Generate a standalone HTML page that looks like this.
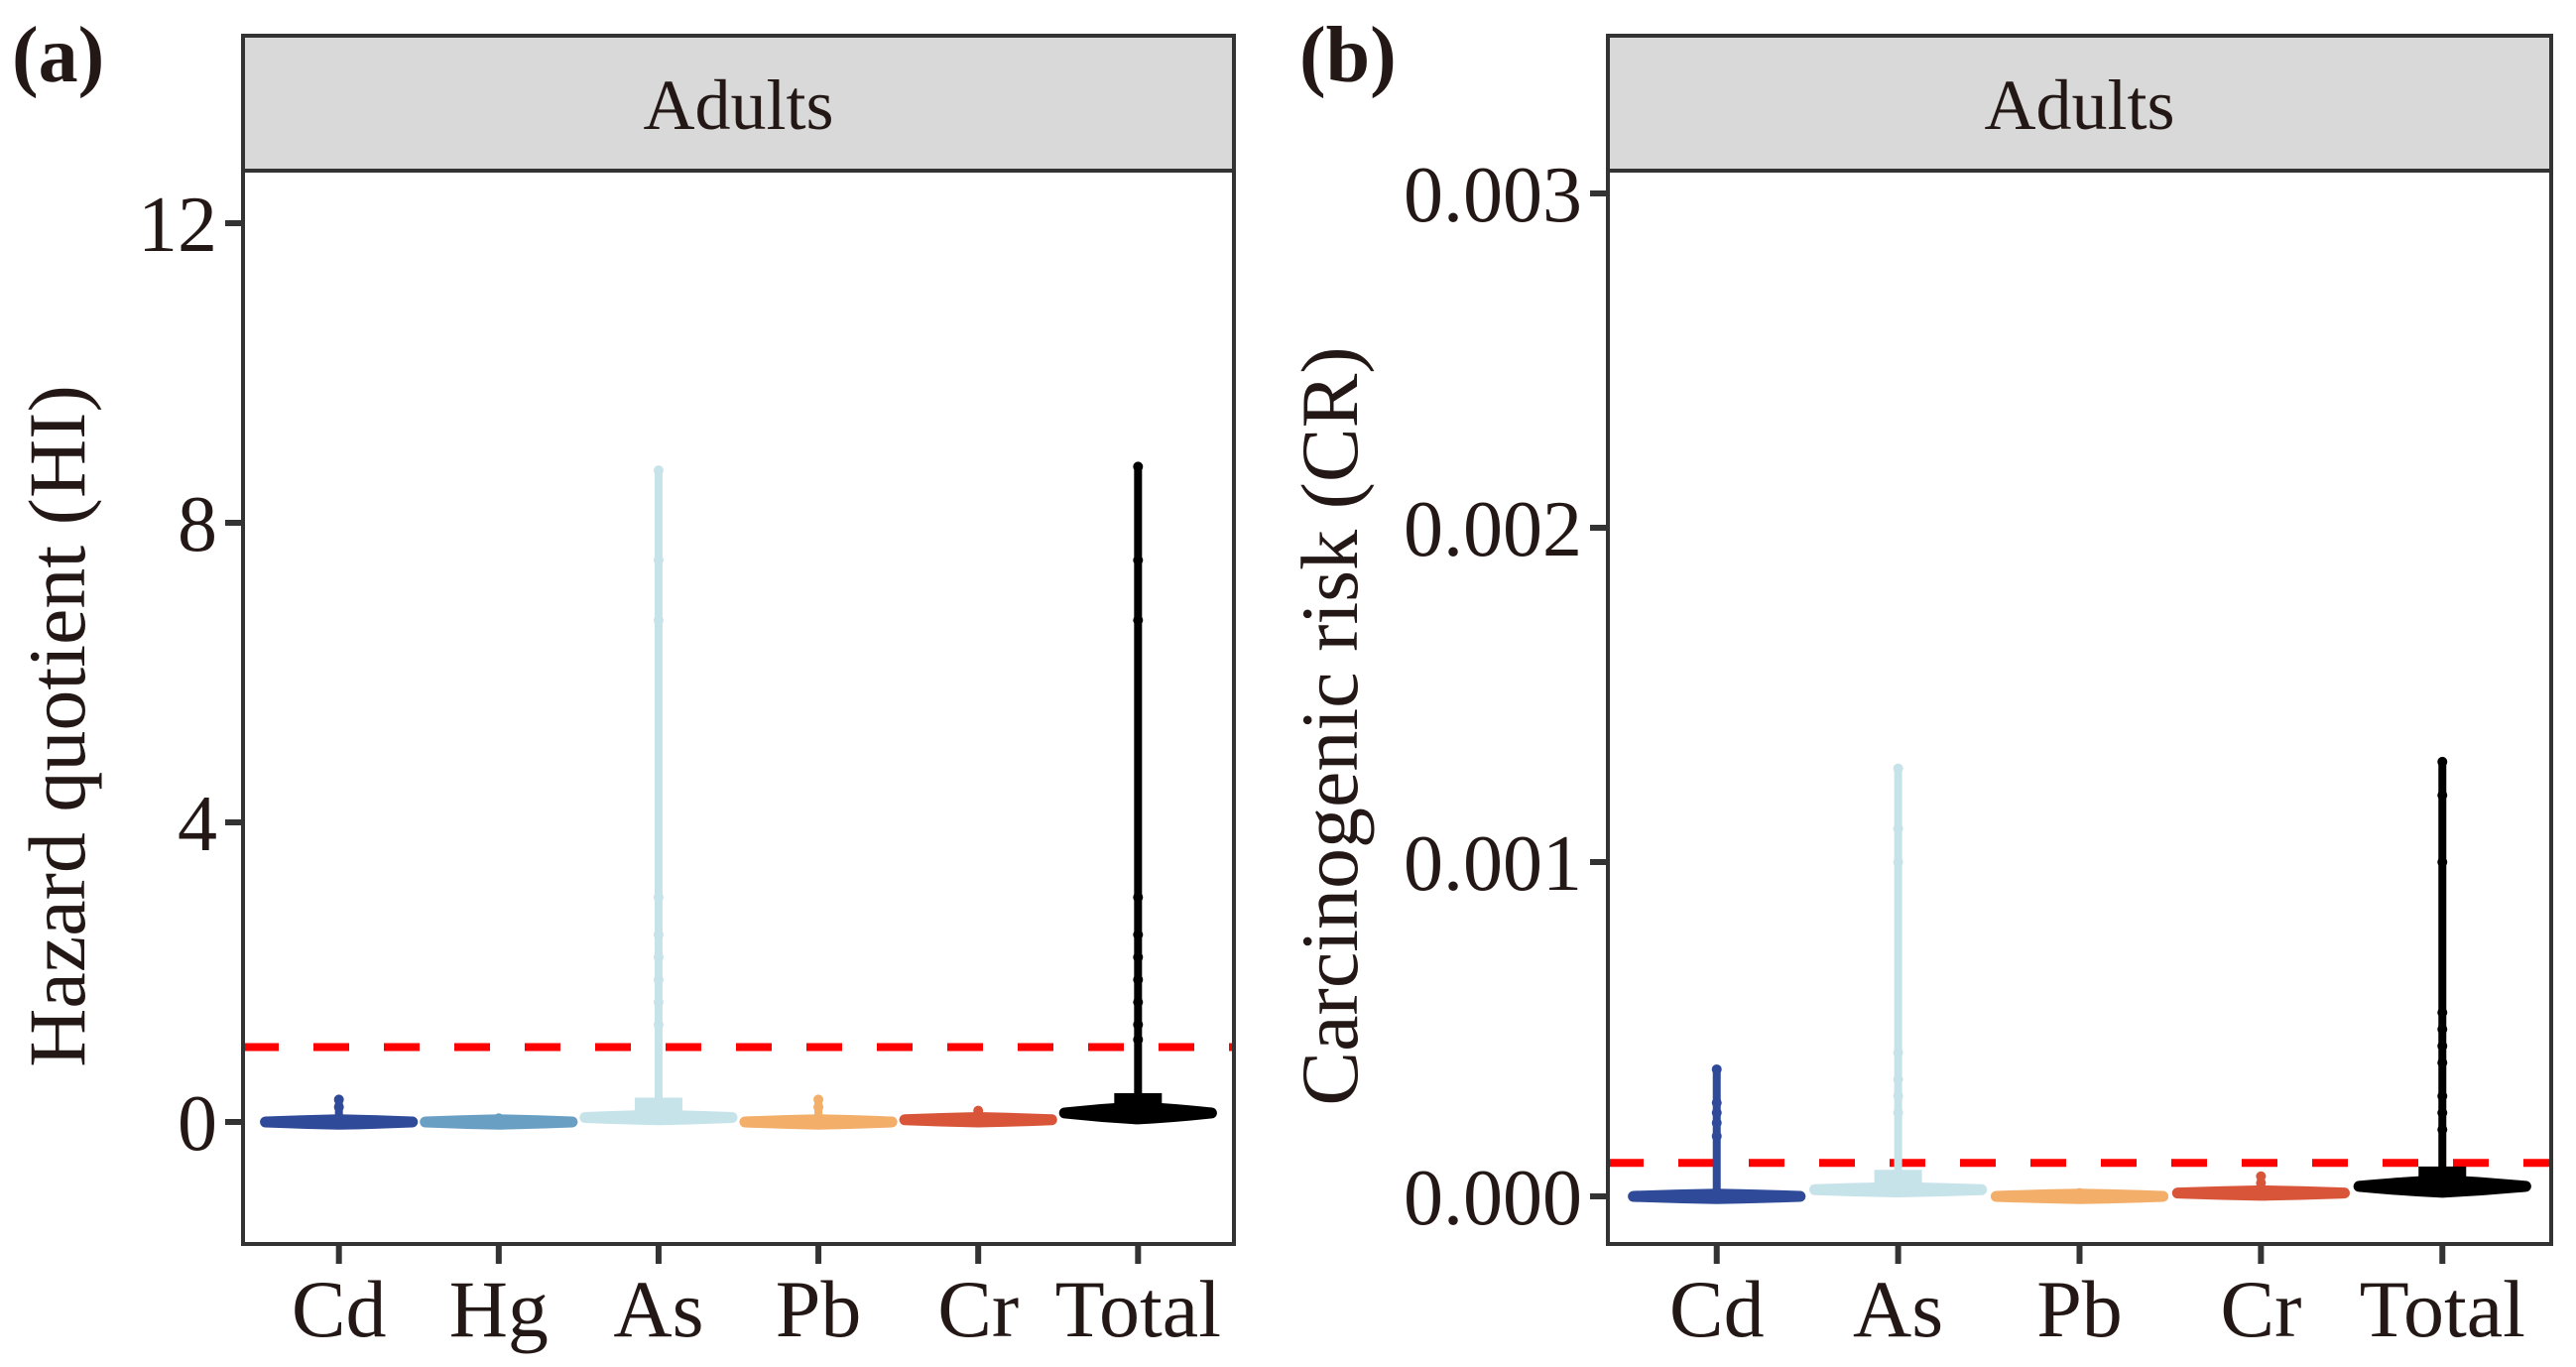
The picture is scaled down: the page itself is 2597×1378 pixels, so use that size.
<!DOCTYPE html>
<html><head><meta charset="utf-8"><style>
body{margin:0;background:#fff}
svg{display:block}
text{font-family:"Liberation Serif",serif;fill:#231815}
</style></head><body>
<svg id="c" width="2597" height="1378" xmlns="http://www.w3.org/2000/svg"></svg>
<script>
const catsA=["Cd","Hg","As","Pb","Cr","Total"];
const medA=[0.0,0.0,0.06,0.0,0.03,0.12];
const maxA=[0.3,0.05,8.7,0.3,0.15,8.75];
const outA=[[0.2],[],[7.5,6.7,3.0,2.5,2.2,1.9,1.6,1.3],[0.2],[0.1],[7.5,6.7,3.0,2.5,2.2,1.9,1.6,1.3,1.1]];
const ticksA=[0,4,8,12];
const catsB=["Cd","As","Pb","Cr","Total"];
const medB=[0.0,0.00002,0.0,0.00001,0.00003];
const maxB=[0.00038,0.00128,0.00001,0.00006,0.0013];
const outB=[[0.00028,0.00025,0.00022,0.00018],[0.0011,0.001,0.00043,0.00035,0.0003,0.00025],[],[0.00004],[0.0012,0.001,0.00055,0.0005,0.00045,0.0004,0.0003,0.00025,0.0002]];
const ticksB=["0.000","0.001","0.002","0.003"];
const cols={Cd:"#2e4a99",Hg:"#6a9fc4",As:"#c6e3ea",Pb:"#f3ae6a",Cr:"#d9553a",Total:"#000"};
const svg=document.getElementById('c');
const NS="http://www.w3.org/2000/svg";
function el(t,a,p){const e=document.createElementNS(NS,t);for(const k in a)e.setAttribute(k,a[k]);(p||svg).appendChild(e);return e;}
function panel(o){
  const g=el('g',{});
  
  
  const L=o.L,R=o.R,T=172,B=1254;
  const n=o.cats.length,unit=(R-L)/(n-1+1.2);
  const x=i=>L+unit*(0.6+i);
  const y=v=>o.y0+(v)*o.k;
  const strip=el('rect',{x:L,y:36,width:R-L,height:T-36,fill:'#d9d9d9',stroke:'#333','stroke-width':4},g);
  
  const st=el('text',{x:(L+R)/2,y:130,'font-size':72,'text-anchor':'middle'},g);st.textContent='Adults';
  
  o.ticks.forEach((t,i)=>{const v=o.tickVals[i];
    el('line',{x1:L-18,x2:L,y1:y(v),y2:y(v),stroke:'#333','stroke-width':6},g);
    const tx=el('text',{x:L-26,y:y(v)+28,'font-size':80,'text-anchor':'end'},g);tx.textContent=t;
    
  });
  const th=el('line',{x1:L,x2:R,y1:y(o.thr),y2:y(o.thr),stroke:'#ff0000','stroke-width':8,'stroke-dasharray':'36 35'},g);
  
  o.cats.forEach((c,i)=>{
    const cx=x(i),col=cols[c],hw=unit*0.46,ym=y(o.med[i]);
    const vg=el('g',{},g);
    
    el('line',{x1:cx,x2:cx,y1:ym,y2:y(o.max[i]),stroke:col,'stroke-width':8,'stroke-linecap':'round'},vg);
    const bw=c==='Total'?4:1.5;
    el('path',{d:`M${cx-hw},${ym} Q${cx-hw*0.5},${ym-bw} ${cx},${ym-bw*1.5} Q${cx+hw*0.5},${ym-bw} ${cx+hw},${ym} Q${cx+hw*0.5},${ym+bw} ${cx},${ym+bw*1.5} Q${cx-hw*0.5},${ym+bw} ${cx-hw},${ym}Z`,fill:col,stroke:col,'stroke-width':11,'stroke-linejoin':'round'},vg);
    if(o.max[i]-o.med[i]>o.bigThr) el('rect',{x:cx-24,y:ym-20,width:48,height:24,fill:col},vg);
    el('circle',{cx:cx,cy:y(o.max[i]),r:5,fill:col},vg);
    o.out[i].forEach(v=>el('circle',{cx:cx,cy:y(v),r:5,fill:col},vg));
    el('line',{x1:cx,x2:cx,y1:B,y2:B+20,stroke:'#333','stroke-width':6},g);
    const lt=el('text',{x:cx,y:1347,'font-size':82,'text-anchor':'middle'},g);lt.textContent=c;
    
  });
  const fr=el('rect',{x:L,y:T,width:R-L,height:B-T,fill:'none',stroke:'#333','stroke-width':4},g);
  
  const yt=el('text',{x:0,y:0,'font-size':82,'text-anchor':'middle',transform:`translate(${o.ytx},732) rotate(-90)`},g);yt.textContent=o.ytitle;
  
  const pl=el('text',{x:o.plx,y:82,'font-size':80,'font-weight':'bold'},g);pl.textContent=o.plabel;
  
}
panel({name:'panel-a',L:245,R:1244,cats:catsA,med:medA,max:maxA,out:outA,y0:1131,k:-75.5,ticks:ticksA.map(String),tickVals:ticksA,thr:1,bigThr:1,ytx:85,ytitle:'Hazard quotient (HI)',plx:12,plabel:'(a)'});
panel({name:'panel-b',L:1621,R:2572,cats:catsB,med:medB,max:maxB,out:outB,y0:1206,k:-337000,ticks:ticksB,tickVals:ticksB.map(Number),thr:0.0001,bigThr:0.0005,ytx:1368,ytitle:'Carcinogenic risk (CR)',plx:1310,plabel:'(b)'});
</script>
</body></html>
